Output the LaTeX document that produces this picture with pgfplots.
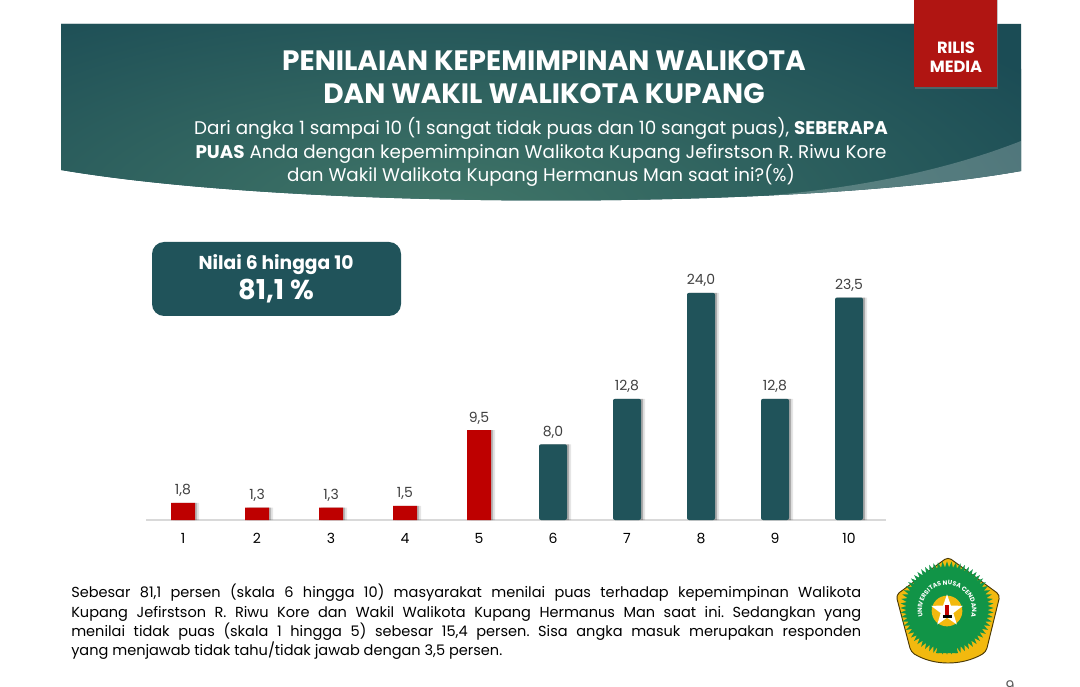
\documentclass[border=0pt]{standalone}
\usepackage{fontspec}
\setmainfont{Poppins}
\usepackage{pgfplots}
\pgfplotsset{compat=1.18}
\usetikzlibrary{shadows,decorations.text,shapes.geometric}
\definecolor{tealbar}{HTML}{20535A}
\definecolor{redbar}{HTML}{BE0000}
\definecolor{bannerdark}{HTML}{1B4C55}
\definecolor{bannerlight}{HTML}{417668}
\definecolor{tagred}{HTML}{B01512}
\definecolor{logogold}{HTML}{F2B90F}
\definecolor{logogreen}{HTML}{119447}
\definecolor{lblgray}{HTML}{404040}
% px coordinates, y measured from the top of the image
\newcommand{\px}[2]{({#1*0.75pt},{(686-#2)*0.75pt})}
\begin{document}
\begin{tikzpicture}[x=1pt,y=1pt]
\useasboundingbox (0,0) rectangle (810pt,514.5pt);
\clip (0,0) rectangle (810pt,514.5pt);
\fill[white] (0,0) rectangle (810pt,514.5pt);

% banner
\begin{scope}
\clip \px{61}{24} -- \px{1021}{24} -- \px{1021}{171}
  .. controls \px{800}{210.5} and \px{300}{210.5} .. \px{61}{170} -- cycle;
\fill[bannerdark] \px{50}{10} rectangle \px{1030}{220};
\shade[inner color=bannerlight,outer color=bannerdark] \px{440}{214} ellipse [x radius=525pt,y radius=195pt];
\fill[white,opacity=.22] \px{1021}{141} .. controls \px{960}{165} and \px{880}{185} .. \px{775}{195}
  -- \px{775}{230} -- \px{1021}{230} -- cycle;
\end{scope}
\node[text=white,align=center,font=\fontsize{21}{25}\selectfont\bfseries] at \px{544}{77}
  {PENILAIAN KEPEMIMPINAN WALIKOTA\\DAN WAKIL WALIKOTA KUPANG};
\node[text=white,align=center,font=\fontsize{13.75}{17.4}\selectfont] at \px{541}{152}
  {Dari angka 1 sampai 10 (1 sangat tidak puas dan 10 sangat puas), \textbf{SEBERAPA}\\
   \textbf{PUAS} Anda dengan kepemimpinan Walikota Kupang Jefirstson R. Riwu Kore\\
   dan Wakil Walikota Kupang Hermanus Man saat ini?(\%)};

% tag
\fill[tagred,drop shadow={shadow xshift=1pt,shadow yshift=-1.5pt,opacity=.45}] \px{914}{-2} rectangle \px{997}{87};
\node[text=white,align=center,font=\fontsize{12.2}{14.4}\selectfont\bfseries] at \px{956}{57} {RILIS\\MEDIA};

% callout
\fill[tealbar,rounded corners=9pt] \px{152}{242} rectangle \px{401}{316};
\node[text=white,font=\fontsize{14}{16}\selectfont\bfseries] at \px{276}{265} {Nilai 6 hingga 10};
\node[text=white,font=\fontsize{20.5}{24}\selectfont\bfseries] at \px{276}{291} {81,1 \%};

\begin{axis}[
  at={(109.5pt,124.5pt)}, anchor=south west,
  scale only axis, width=555pt, height=213pt,
  xmin=0.5, xmax=10.5, ymin=0, ymax=30,
  axis x line=bottom, axis y line=none,
  axis line style={draw=black!15,line width=.8pt,-},
  xtick={1,...,10}, major tick length=0pt,
  ticklabel style={font=\fontsize{10.5}{12}\selectfont,text=black},
  xticklabel style={yshift=-6.5pt},
  /pgf/number format/assume math mode=true,
  clip=false,
]
% soft shadow behind the bars, two layers
\addplot[ybar,bar shift=3pt,bar width=18pt,fill=black,draw=none,opacity=.1]
  coordinates {(1,1.8)(2,1.3)(3,1.3)(4,1.5)(5,9.5)};
\addplot[ybar,bar shift=1.5pt,bar width=18pt,fill=black,draw=none,opacity=.2]
  coordinates {(1,1.8)(2,1.3)(3,1.3)(4,1.5)(5,9.5)};
\addplot[ybar,bar shift=3pt,bar width=21pt,fill=black,draw=none,opacity=.1]
  coordinates {(6,8.0)(7,12.8)(8,24.0)(9,12.8)(10,23.5)};
\addplot[ybar,bar shift=1.5pt,bar width=21pt,fill=black,draw=none,opacity=.25]
  coordinates {(6,8.0)(7,12.8)(8,24.0)(9,12.8)(10,23.5)};
\addplot[ybar,bar shift=0pt,bar width=18pt,fill=redbar,draw=none,
  nodes near coords,point meta=explicit symbolic,
  every node near coord/.style={font=\fontsize{10.5}{12}\selectfont,text=lblgray,yshift=1pt}]
  coordinates {(1,1.8)[1,8] (2,1.3)[1,3] (3,1.3)[1,3] (4,1.5)[1,5] (5,9.5)[9,5]};
\addplot[ybar,bar shift=0pt,bar width=21pt,fill=tealbar,draw=none,rounded corners=1.5pt,
  nodes near coords,point meta=explicit symbolic,
  every node near coord/.style={font=\fontsize{10.5}{12}\selectfont,text=lblgray,yshift=1pt}]
  coordinates {(6,8.0)[8,0] (7,12.8)[12,8] (8,24.0)[24,0] (9,12.8)[12,8] (10,23.5)[23,5]};
\end{axis}

% paragraph
\node[anchor=north west,inner sep=0pt,text width=592.5pt,align=justify,font=\fontsize{10.9}{14.5}\selectfont\frenchspacing] at \px{71}{584}
  {Sebesar 81,1 persen (skala 6 hingga 10) masyarakat menilai puas terhadap kepemimpinan Walikota\linebreak
   Kupang Jefirstson R. Riwu Kore dan Wakil Walikota Kupang Hermanus Man saat ini. Sedangkan yang\linebreak
   menilai tidak puas (skala 1 hingga 5) sebesar 15,4 persen. Sisa angka masuk merupakan responden\linebreak
   yang menjawab tidak tahu/tidak jawab dengan 3,5 persen.};

% logo
\draw[black!70!logogold,fill=logogold,line width=.7pt,rounded corners=3pt]
  \px{948}{557} -- \px{1000}{595} -- \px{986}{652}
  .. controls \px{962}{666} and \px{934}{666} .. \px{911}{652}
  -- \px{896}{595} -- cycle;
\node[star,star points=64,star point ratio=1.15,fill=logogreen,inner sep=0pt,minimum size=70pt] at \px{947}{608} {};
\fill[logogreen] \px{941}{635} -- \px{953}{635} -- \px{958}{653} -- \px{936}{653} -- cycle;
\fill[logogold] \px{947}{611} circle[radius=11.5pt];
\node[star,star points=5,star point ratio=2.5,fill=white,inner sep=0pt,minimum size=25pt] at \px{947}{611} {};
\fill[black] \px{942.5}{618} rectangle \px{951.5}{614.5};
\fill[red!75!black] \px{945}{614.5} rectangle \px{949}{605};
\path[decorate,decoration={text along path,text align=center,
  text={|\fontsize{4.7}{6}\selectfont\bfseries\color{white}|UNIVERSITAS NUSA CENDANA}}]
  \px{931.6}{629.7} arc[start angle=232,end angle=-52,radius=18.75pt];

% page number
\node[font=\fontsize{11}{13}\selectfont,text=black!65] at \px{1010}{686} {9};
\end{tikzpicture}
\end{document}
